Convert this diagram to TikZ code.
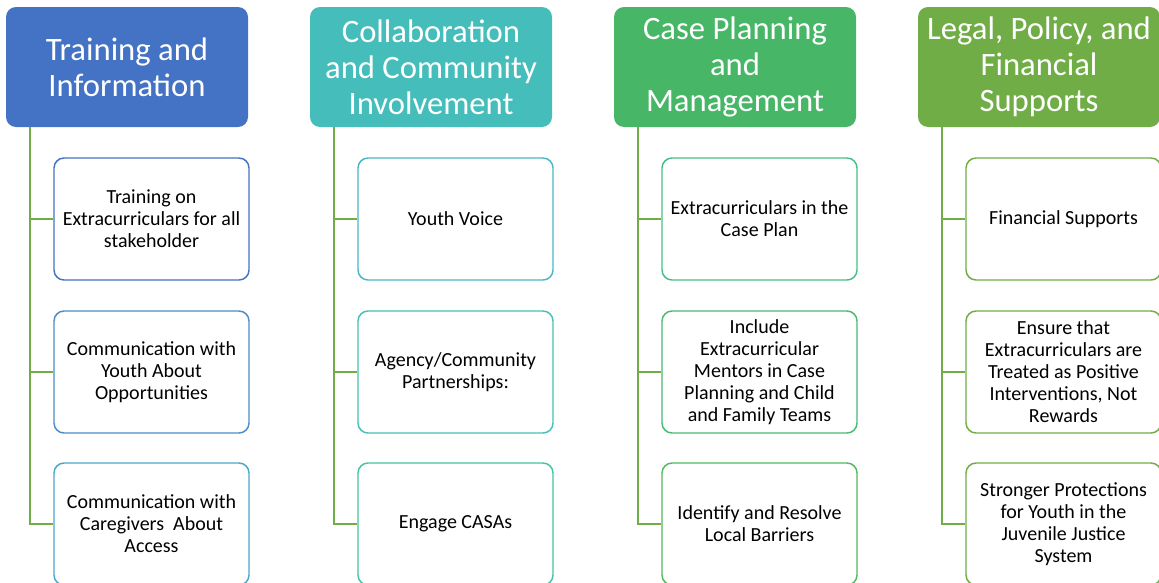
\documentclass[tikz,border=0pt]{standalone}
\usepackage{fontspec}
\setmainfont{Carlito}
\usepackage{tikz}
\usetikzlibrary{positioning}

\definecolor{hdrA}{HTML}{4472C4}
\definecolor{hdrB}{HTML}{45BDBA}
\definecolor{hdrC}{HTML}{47B767}
\definecolor{hdrD}{HTML}{70AD47}
\definecolor{boxA1}{HTML}{4472C4}
\definecolor{boxA2}{HTML}{4A8DC7}
\definecolor{boxA3}{HTML}{4BA6CA}
\definecolor{boxB1}{HTML}{48B7C6}
\definecolor{boxB2}{HTML}{46BFB6}
\definecolor{boxB3}{HTML}{45C3A2}
\definecolor{boxC1}{HTML}{46BE88}
\definecolor{boxC2}{HTML}{47BB72}
\definecolor{boxC3}{HTML}{55B85E}
\definecolor{boxD}{HTML}{70AD47}
\definecolor{linkgreen}{HTML}{70AD47}

\begin{document}
\begin{tikzpicture}[x=0.75pt, y=-0.75pt,
  header/.style={fill=#1, draw=none, rounded corners=7.5pt, text=white,
    minimum width=181.5pt, minimum height=90pt, align=center,
    font=\fontsize{24.5}{27}\selectfont},
  item/.style={draw=#1, line width=1.1pt, fill=white, rounded corners=7.5pt,
    minimum width=146.25pt, minimum height=91.5pt, align=center,
    font=\fontsize{15}{16.5}\selectfont},
  link/.style={draw=linkgreen, line width=1.3pt}]
\useasboundingbox (0,0) rectangle (1159,582);

% Training and Information
\node[header=hdrA] (h1) at (127,67) {Training and\\Information};
\node[item=boxA1] (c11) at (151.5,219) {Training on\\Extracurriculars for all\\stakeholder};
\node[item=boxA2] (c12) at (151.5,372) {Communication with\\Youth About\\Opportunities};
\node[item=boxA3] (c13) at (151.5,524) {Communication with\\Caregivers\ \ About\\Access};
\draw[link] (h1.south west) ++(24,0) |- (c11.west);
\draw[link] (h1.south west) ++(24,0) |- (c12.west);
\draw[link] (h1.south west) ++(24,0) |- (c13.west);

% Collaboration and Community Involvement
\node[header=hdrB] (h2) at (431,67) {Collaboration\\and Community\\Involvement};
\node[item=boxB1] (c21) at (455.5,219) {Youth Voice};
\node[item=boxB2] (c22) at (455.5,372) {Agency/Community\\Partnerships:};
\node[item=boxB3] (c23) at (455.5,524) {Engage CASAs};
\draw[link] (h2.south west) ++(24,0) |- (c21.west);
\draw[link] (h2.south west) ++(24,0) |- (c22.west);
\draw[link] (h2.south west) ++(24,0) |- (c23.west);

% Case Planning and Management
\node[header=hdrC] (h3) at (735,67) {Case Planning\\and\\Management};
\node[item=boxC1] (c31) at (759.5,219) {Extracurriculars in the\\Case Plan};
\node[item=boxC2] (c32) at (759.5,372) {Include\\Extracurricular\\Mentors in Case\\Planning and Child\\and Family Teams};
\node[item=boxC3] (c33) at (759.5,524) {Identify and Resolve\\Local Barriers};
\draw[link] (h3.south west) ++(24,0) |- (c31.west);
\draw[link] (h3.south west) ++(24,0) |- (c32.west);
\draw[link] (h3.south west) ++(24,0) |- (c33.west);

% Legal, Policy, and Financial Supports
\node[header=hdrD] (h4) at (1039,67) {Legal, Policy, and\\Financial\\Supports};
\node[item=boxD] (c41) at (1063.5,219) {Financial Supports};
\node[item=boxD] (c42) at (1063.5,372) {Ensure that\\Extracurriculars are\\Treated as Positive\\Interventions, Not\\Rewards};
\node[item=boxD] (c43) at (1063.5,524) {Stronger Protections\\for Youth in the\\Juvenile Justice\\System};
\draw[link] (h4.south west) ++(24,0) |- (c41.west);
\draw[link] (h4.south west) ++(24,0) |- (c42.west);
\draw[link] (h4.south west) ++(24,0) |- (c43.west);
\end{tikzpicture}
\end{document}
